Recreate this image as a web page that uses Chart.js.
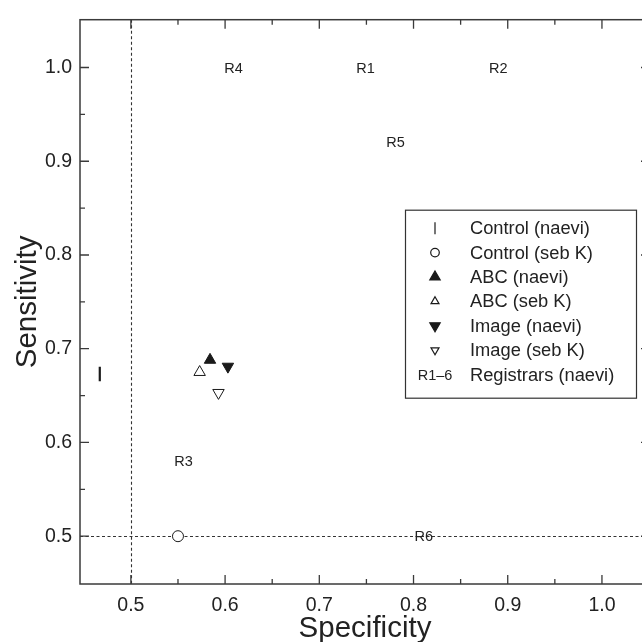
<!DOCTYPE html>
<html><head><meta charset="utf-8">
<script src="https://cdn.jsdelivr.net/npm/chart.js@4/dist/chart.umd.min.js"></script>
<style>html,body{margin:0;padding:0;overflow:hidden;background:#fff}#wrap{position:relative;width:670px;height:642px}</style>
</head><body><div id="wrap"><canvas id="c"></canvas></div>
<script>
// ---- data ----
const seriesNames = ['Control (naevi)','Control (seb K)','ABC (naevi)','ABC (seb K)','Image (naevi)','Image (seb K)','Registrars (naevi)'];
const controlNaeviSpec = [0.467], controlNaeviSens = [0.673];
const controlSebKSpec  = [0.550], controlSebKSens  = [0.500];
const abcNaeviSpec     = [0.584], abcNaeviSens     = [0.688];
const abcSebKSpec      = [0.573], abcSebKSens      = [0.675];
const imageNaeviSpec   = [0.603], imageNaeviSens   = [0.681];
const imageSebKSpec    = [0.593], imageSebKSens    = [0.653];
const registrarNames = ['R1','R2','R3','R4','R5','R6'];
const registrarSpec  = [0.749,0.890,0.556,0.609,0.781,0.811];
const registrarSens  = [1.000,1.000,0.580,1.000,0.921,0.500];
const registrarLegendMark = 'R1\u20136';
const xTickValues = [0.5,0.6,0.7,0.8,0.9,1.0];
const yTickValues = [0.5,0.6,0.7,0.8,0.9,1.0];
const xMinorTicks = [0.55,0.65,0.75,0.85,0.95,1.05];
const yMinorTicks = [0.55,0.65,0.75,0.85,0.95];
const refSpec = 0.5, refSens = 0.5;
const xRange = [0.446,1.051], yRange = [0.449,1.051];

// ---- build ----
const FONT = "'Liberation Sans', Arial, Helvetica, sans-serif";
const ink = '#1a1a1a';
function pts(xs, ys){ return xs.map((v,i)=>({x:v,y:ys[i]})); }
const styles = [
  {pointStyle:'line', rotation:90, radius:7.3, borderWidth:2.2, fill:ink, lg:{radius:6, borderWidth:2}},
  {pointStyle:'circle', rotation:0, radius:5.5, borderWidth:1, fill:'#fff', lg:{radius:4.3, borderWidth:1}},
  {pointStyle:'triangle', rotation:0, radius:6.6, borderWidth:1, fill:ink, lg:{radius:6, borderWidth:1}},
  {pointStyle:'triangle', rotation:0, radius:6.6, borderWidth:1, fill:'#fff', lg:{radius:4.6, borderWidth:1}},
  {pointStyle:'triangle', rotation:180, radius:6.6, borderWidth:1, fill:ink, lg:{radius:6, borderWidth:1}},
  {pointStyle:'triangle', rotation:180, radius:6.6, borderWidth:1, fill:'#fff', lg:{radius:4.6, borderWidth:1}}
];
const seriesData = [
  pts(controlNaeviSpec, controlNaeviSens), pts(controlSebKSpec, controlSebKSens),
  pts(abcNaeviSpec, abcNaeviSens), pts(abcSebKSpec, abcSebKSens),
  pts(imageNaeviSpec, imageNaeviSens), pts(imageSebKSpec, imageSebKSens)
];
const datasets = seriesData.map((d,i)=>({
  label: seriesNames[i], data: d,
  pointStyle: styles[i].pointStyle, rotation: styles[i].rotation,
  pointRadius: styles[i].radius, pointHoverRadius: styles[i].radius,
  borderWidth: styles[i].borderWidth, pointBorderWidth: styles[i].borderWidth,
  borderColor: ink, pointBorderColor: ink,
  backgroundColor: styles[i].fill, pointBackgroundColor: styles[i].fill
}));
datasets.push({label: seriesNames[6], data: pts(registrarSpec, registrarSens), pointRadius:0, pointHoverRadius:0, isText:true});

const decoPlugin = {
  id:'deco',
  beforeDatasetsDraw(chart){
    const {ctx, chartArea:a, scales:{x,y}} = chart;
    ctx.save();
    ctx.strokeStyle='#333'; ctx.lineWidth=1.1; ctx.setLineDash([3,2.5]);
    const rx = Math.round(x.getPixelForValue(refSpec))+0.5, ry = Math.round(y.getPixelForValue(refSens))+0.5;
    ctx.beginPath(); ctx.moveTo(rx,a.top); ctx.lineTo(rx,a.bottom); ctx.stroke();
    ctx.beginPath(); ctx.moveTo(a.left,ry); ctx.lineTo(a.right,ry); ctx.stroke();
    ctx.restore();
  },
  afterDatasetsDraw(chart){
    const {ctx} = chart;
    chart.data.datasets.forEach((ds,di)=>{
      if(!ds.isText) return;
      const meta = chart.getDatasetMeta(di);
      ctx.save();
      ctx.fillStyle='#222'; ctx.font='14.5px '+FONT; ctx.textAlign='center'; ctx.textBaseline='middle';
      meta.data.forEach((el,i)=>{ ctx.fillText(registrarNames[i], el.x, el.y+1); });
      ctx.restore();
    });
  },
  afterDraw(chart){
    const {ctx, chartArea:a, scales:{x,y}} = chart;
    ctx.save();
    ctx.strokeStyle='#3a3a3a'; ctx.lineWidth=1.5; ctx.setLineDash([]);
    ctx.strokeRect(a.left, a.top, a.right-a.left, a.bottom-a.top);
    const tick=(len, vals, axis)=>{
      vals.forEach(v=>{
        if(axis==='x'){
          const px = x.getPixelForValue(v);
          ctx.beginPath(); ctx.moveTo(px,a.bottom); ctx.lineTo(px,a.bottom-len);
          ctx.moveTo(px,a.top); ctx.lineTo(px,a.top+len); ctx.stroke();
        } else {
          const py = y.getPixelForValue(v);
          ctx.beginPath(); ctx.moveTo(a.left,py); ctx.lineTo(a.left+len,py);
          ctx.moveTo(a.right,py); ctx.lineTo(a.right-len,py); ctx.stroke();
        }
      });
    };
    ctx.lineWidth=1.3;
    tick(9, xTickValues, 'x'); tick(5, xMinorTicks, 'x');
    tick(9, yTickValues, 'y'); tick(5, yMinorTicks, 'y');
    // legend box
    const L = a.left+325, T = a.top+190, R = a.left+556, B = a.top+378;
    ctx.lineWidth=1.2; ctx.strokeStyle='#333';
    ctx.strokeRect(L+0.5, T+0.5, R-L, B-T);
    const rowY0 = T+18.5, rowH = 24.4, markX = L+30, textX = L+65;
    ctx.font = '18.3px '+FONT; ctx.textBaseline='middle'; ctx.textAlign='left';
    for(let i=0;i<7;i++){
      const ry = rowY0 + i*rowH;
      if(i<6){
        const s = styles[i];
        ctx.fillStyle = s.fill; ctx.strokeStyle = ink;
        Chart.helpers.drawPoint(ctx, {pointStyle:s.pointStyle, rotation:s.rotation, radius:s.lg.radius, borderWidth:s.lg.borderWidth}, markX, ry);
      } else {
        ctx.save(); ctx.fillStyle='#222'; ctx.font='14.5px '+FONT; ctx.textAlign='center';
        ctx.fillText(registrarLegendMark, markX, ry+1); ctx.restore();
      }
      ctx.fillStyle='#222';
      ctx.fillText(seriesNames[i], textX, ry+1);
    }
    ctx.restore();
  }
};

new Chart(document.getElementById('c'), {
  type:'scatter',
  data:{datasets},
  options:{
    responsive:true, maintainAspectRatio:false, animation:false,
    layout:{padding:{left:0, top:15, right:20, bottom:0}},
    plugins:{legend:{display:false}, tooltip:{enabled:false}},
    scales:{
      x:{
        type:'linear', min:xRange[0], max:xRange[1],
        afterBuildTicks(s){ s.ticks = xTickValues.map(v=>({value:v})); },
        afterFit(s){ s.height = 58; },
        grid:{display:false, drawTicks:false}, border:{display:false},
        ticks:{padding:10, color:'#222', font:{family:FONT, size:19.5}, callback:v=>Number(v).toFixed(1), maxRotation:0},
        title:{display:true, text:'Specificity', color:'#222', font:{family:FONT, size:29.5, lineHeight:0.9}, padding:{top:0,bottom:0}}
      },
      y:{
        type:'linear', min:yRange[0], max:yRange[1],
        afterBuildTicks(s){ s.ticks = yTickValues.map(v=>({value:v})); },
        afterFit(s){ s.width = 80; },
        grid:{display:false, drawTicks:false}, border:{display:false},
        ticks:{padding:8, color:'#222', font:{family:FONT, size:19.5}, callback:v=>Number(v).toFixed(1)},
        title:{display:true, text:'Sensitivity', color:'#222', font:{family:FONT, size:29.5, lineHeight:0.9}, padding:{top:15,bottom:0}}
      }
    }
  },
  plugins:[decoPlugin]
});
</script></body></html>
